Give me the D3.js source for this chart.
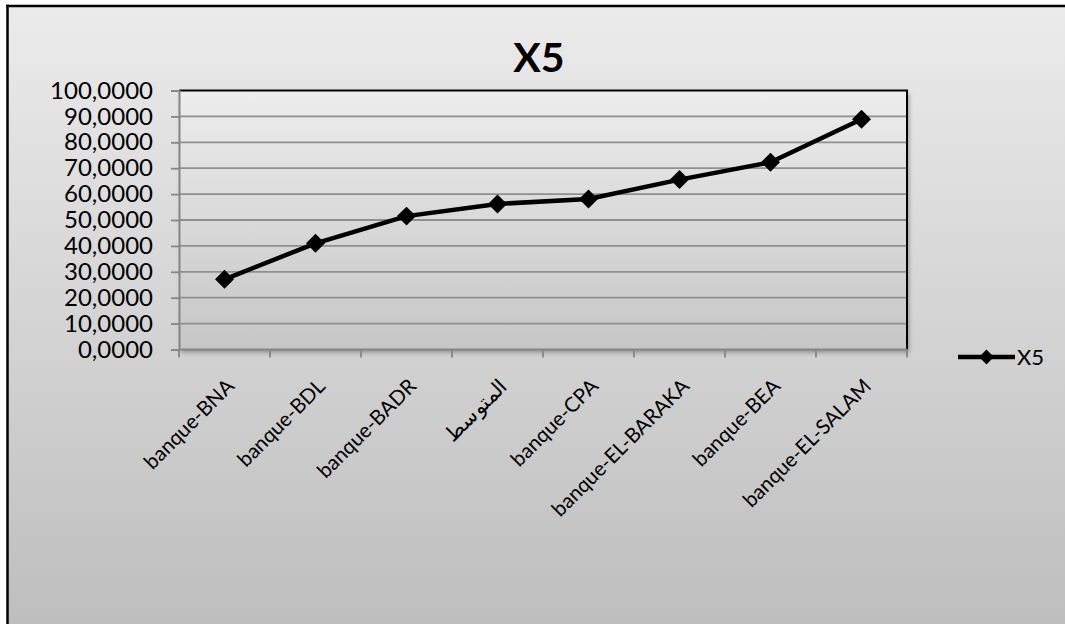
<!DOCTYPE html>
<html><head><meta charset="utf-8">
<script src="https://cdn.jsdelivr.net/npm/d3@7"></script>
<style>html,body{margin:0;padding:0;background:#fff;overflow:hidden}svg{display:block}</style>
</head><body><svg id="c" width="1065" height="624"></svg>
<script>
const categories = ["banque-BNA","banque-BDL","banque-BADR","المتوسط","banque-CPA","banque-EL-BARAKA","banque-BEA","banque-EL-SALAM"];
const values = [27.1, 41.0, 51.5, 56.2, 58.1, 65.6, 72.3, 88.9];
const yTicks = [0,10,20,30,40,50,60,70,80,90,100];
const seriesName = "X5";
const title = "X5";

const svg = d3.select("#c");
const m = {left:179, top:90.5, right:907, bottom:349.5};
const FONT = "Lato, 'Open Sans', sans-serif";

const defs = svg.append("defs");
const g1 = defs.append("linearGradient").attr("id","bg").attr("gradientUnits","userSpaceOnUse")
  .attr("x1",0).attr("y1",6).attr("x2",0).attr("y2",624);
g1.append("stop").attr("offset",0).attr("stop-color","#ebebeb");
g1.append("stop").attr("offset",1).attr("stop-color","#bebebe");
const g2 = defs.append("linearGradient").attr("id","pa").attr("x1",0).attr("y1",0).attr("x2",0).attr("y2",1);
g2.append("stop").attr("offset",0).attr("stop-color","#ededed");
g2.append("stop").attr("offset",1).attr("stop-color","#c6c6c6");
const f = defs.append("filter").attr("id","sh").attr("x","-5%").attr("y","-5%").attr("width","110%").attr("height","115%");
f.append("feDropShadow").attr("dx",2).attr("dy",3).attr("stdDeviation",2).attr("flood-color","#555").attr("flood-opacity",0.55);

// chart background (extends beyond the window on right & bottom)
svg.append("rect").attr("x",7.5).attr("y",6).attr("width",1100).attr("height",650).attr("fill","url(#bg)");
svg.append("line").attr("x1",7.5).attr("x2",7.5).attr("y1",4.75).attr("y2",640).attr("stroke","#000").attr("stroke-width",2.5);
svg.append("line").attr("x1",6.25).attr("x2",1080).attr("y1",6).attr("y2",6).attr("stroke","#000").attr("stroke-width",2.5);

const x = d3.scaleBand().domain(categories).range([m.left, m.right]).paddingInner(0).paddingOuter(0);
const y = d3.scaleLinear().domain([0,100]).range([m.bottom, m.top]);

// plot area
svg.append("rect").attr("x",m.left).attr("y",m.top).attr("width",m.right-m.left).attr("height",m.bottom-m.top)
  .attr("fill","url(#pa)").attr("filter","url(#sh)");

// gridlines
svg.append("g").selectAll("line").data(yTicks.filter(d=>d>0 && d<100)).join("line")
  .attr("x1",m.left).attr("x2",m.right).attr("y1",d=>y(d)).attr("y2",d=>y(d))
  .attr("stroke","#8f8f8f").attr("stroke-width",1.8);

// top & right border
svg.append("path").attr("d",`M${m.left},${m.top}H${m.right}V${m.bottom}`)
  .attr("fill","none").attr("stroke","#000").attr("stroke-width",2);

// y axis
const yAxis = d3.axisLeft(y).tickValues(yTicks).tickSize(8).tickPadding(18)
  .tickFormat(d => d3.format(".4f")(d).replace(".", ","));
const ya = svg.append("g").attr("transform",`translate(${m.left},0)`).call(yAxis);
ya.select(".domain").attr("stroke","#868686").attr("stroke-width",2);
ya.selectAll(".tick line").attr("stroke","#868686").attr("stroke-width",1.8);
ya.selectAll("text").attr("font-family",FONT).attr("font-size",24).attr("fill","#000");

// x axis
const xa = svg.append("g").attr("transform",`translate(0,${m.bottom})`);
xa.append("line").attr("x1",m.left).attr("x2",m.right).attr("stroke","#868686").attr("stroke-width",2);
const bounds = d3.range(categories.length+1).map(i => m.left + i*x.bandwidth());
xa.selectAll(".tk").data(bounds).join("line").attr("class","tk")
  .attr("x1",d=>d).attr("x2",d=>d).attr("y1",0).attr("y2",8).attr("stroke","#868686").attr("stroke-width",1.8);
xa.selectAll(".lb").data(categories).join("text").attr("class","lb")
  .attr("transform",d=>`translate(${x(d)+x.bandwidth()/2+11},${38}) rotate(-45)`)
  .attr("text-anchor","end").attr("font-family",FONT).attr("font-size",20.5).attr("fill","#000")
  .text(d=>d);

// line
const cx = d => x(d)+x.bandwidth()/2;
svg.append("path").datum(values)
  .attr("d", d3.line().x((d,i)=>cx(categories[i])).y(d=>y(d)))
  .attr("fill","none").attr("stroke","#000").attr("stroke-width",4.5).attr("stroke-linejoin","round");
const diamond = d3.symbol().type(d3.symbolSquare).size(180);
svg.append("g").selectAll("path").data(values).join("path")
  .attr("transform",(d,i)=>`translate(${cx(categories[i])},${y(d)}) rotate(45)`)
  .attr("d",diamond).attr("fill","#000");

// title
svg.append("text").attr("x",539).attr("y",71.5).attr("text-anchor","middle")
  .attr("font-family",FONT).attr("font-weight","bold").attr("font-size",41).attr("fill","#000").text(title);

// legend
const lg = svg.append("g");
lg.append("line").attr("x1",958).attr("x2",1015).attr("y1",357).attr("y2",357).attr("stroke","#000").attr("stroke-width",4.5);
lg.append("path").attr("transform","translate(986.5,357) rotate(45)").attr("d",d3.symbol().type(d3.symbolSquare).size(110)).attr("fill","#000");
lg.append("text").attr("x",1017).attr("y",364.5).attr("font-family",FONT).attr("font-size",22).attr("fill","#000").text(seriesName);
</script></body></html>
